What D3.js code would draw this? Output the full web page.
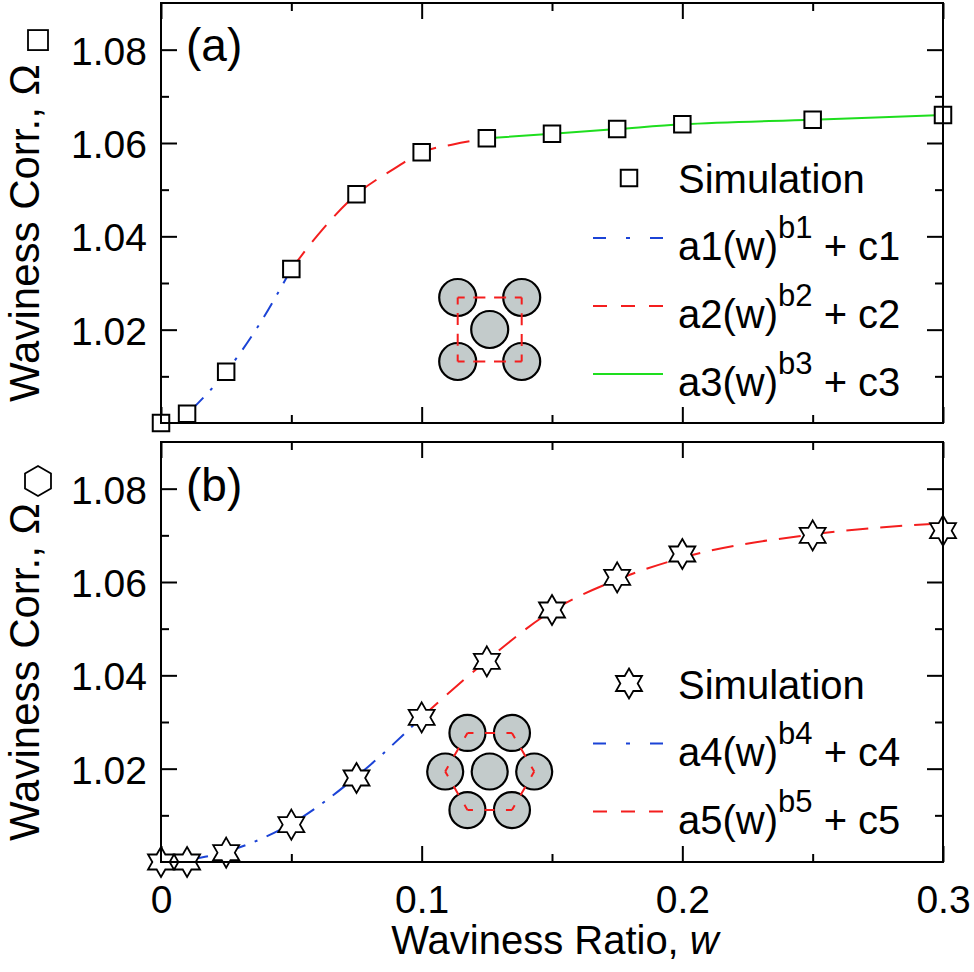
<!DOCTYPE html>
<html><head><meta charset="utf-8">
<script src="https://cdn.jsdelivr.net/npm/d3@7"></script>
<style>
body{margin:0;background:#fff}
svg text{font-family:"Liberation Sans",Arial,Helvetica,sans-serif;fill:#000;white-space:pre}
</style></head><body>
<svg id="c" width="974" height="972"></svg>
<script>
// ---------- data ----------
const wMajor = [0, 0.1, 0.2, 0.3];
const wMajorLabels = ["0", "0.1", "0.2", "0.3"];
const wMinor = [0.05, 0.15, 0.25];
const omegaMajor = [1.02, 1.04, 1.06, 1.08];
const omegaMajorLabels = ["1.02", "1.04", "1.06", "1.08"];
const omegaMinor = [1.01, 1.03, 1.05, 1.07];

const simW = [0, 0.01, 0.025, 0.05, 0.075, 0.1, 0.125, 0.15, 0.175, 0.2, 0.25, 0.3];
const simSquare = [1.000, 1.002, 1.011, 1.033, 1.049, 1.058, 1.061, 1.062, 1.063, 1.064, 1.065, 1.066];
const simHex = [1.000, 1.000, 1.002, 1.008, 1.018, 1.031, 1.043, 1.054, 1.061, 1.066, 1.070, 1.071];

// fitted curves
const fit1W = [0.012, 0.025, 0.037, 0.05];
const fit1 = [1.003, 1.011, 1.0205, 1.033];
const fit2W = [0.05, 0.062, 0.075, 0.0895, 0.1, 0.112, 0.125];
const fit2 = [1.033, 1.0415, 1.049, 1.0545, 1.058, 1.0597, 1.061];
const fit3W = [0.125, 0.15, 0.175, 0.2, 0.25, 0.3];
const fit3 = [1.061, 1.062, 1.063, 1.064, 1.065, 1.066];
const fit4W = [0.012, 0.025, 0.039, 0.05, 0.075, 0.1];
const fit4 = [1.0006, 1.0022, 1.0051, 1.0082, 1.0183, 1.031];
const fit5W = [0.1, 0.125, 0.15, 0.175, 0.2, 0.25, 0.3];
const fit5 = [1.031, 1.0432, 1.0538, 1.0605, 1.0652, 1.0702, 1.0726];

const legendTop = ["a1", "b1", "c1", "a2", "b2", "c2", "a3", "b3", "c3"];
const legendBottom = ["a4", "b4", "c4", "a5", "b5", "c5"];

// ---------- styles / layout ----------
const BLUE = "#1b43d6", RED = "#f41e1e", GREEN = "#1ede1e";
const DASH_BLUE = "16 10 3 10", DASH_RED = "22 12";
const L = 161, R = 943, PH = 420;
const panelTops = [3, 442];
const FONT = 40, TICKFONT = 39, YLABFONT = 42;

const svg = d3.select("#c");
const x = d3.scaleLinear().domain([0, 0.3]).range([L, R]);
const zip = (a, b) => a.map((v, i) => [v, b[i]]);

function hexagram(Rr) {
  const r = Rr / Math.sqrt(3), p = [];
  for (let i = 0; i < 12; i++) {
    const a = (-90 + i * 30) * Math.PI / 180, rr = i % 2 ? r : Rr;
    p.push([rr * Math.cos(a), rr * Math.sin(a)]);
  }
  return "M" + p.map(q => q.join(",")).join("L") + "Z";
}
const squarePath = d3.symbol(d3.symbolSquare, 16.5 * 16.5)();
const starPath = hexagram(15);

function drawAxes(g, y, showX) {
  const mk = (axis, tr, vals, size, fmt) => {
    const a = g.append("g").attr("transform", tr)
      .call(axis.tickValues(vals).tickSize(size).tickSizeOuter(0).tickFormat(fmt));
    a.select(".domain").remove();
    a.selectAll("line").attr("stroke", "#000").attr("stroke-width", 2);
    return a;
  };
  const top = y.range()[1], bot = y.range()[0];
  const xb = mk(d3.axisBottom(x).tickPadding(23), `translate(0,${bot})`, wMajor, -16,
    showX ? (d, i) => wMajorLabels[i] : () => "");
  xb.selectAll("text").attr("font-size", TICKFONT);
  mk(d3.axisBottom(x), `translate(0,${bot})`, wMinor, -8, () => "");
  mk(d3.axisTop(x), `translate(0,${top})`, wMajor, -16, () => "");
  mk(d3.axisTop(x), `translate(0,${top})`, wMinor, -8, () => "");
  const yl = mk(d3.axisLeft(y).tickPadding(14), `translate(${L},0)`, omegaMajor, -16, (d, i) => omegaMajorLabels[i]);
  yl.selectAll("text").attr("font-size", TICKFONT).attr("dy", "0.37em");
  mk(d3.axisLeft(y), `translate(${L},0)`, omegaMinor, -8, () => "");
  mk(d3.axisRight(y), `translate(${R},0)`, omegaMajor, -16, () => "");
  mk(d3.axisRight(y), `translate(${R},0)`, omegaMinor, -8, () => "");
  g.selectAll(".tick text").attr("fill", "#000");
}

function curve(g, y, pts, color, dash) {
  const line = d3.line().x(d => x(d[0])).y(d => y(d[1])).curve(d3.curveMonotoneX);
  g.append("path").attr("d", line(pts)).attr("fill", "none").attr("stroke", color)
    .attr("stroke-width", 2).attr("stroke-dasharray", dash || null);
}

function legendRow(g, yl, color, dash, names) {
  g.append("line").attr("x1", 593).attr("x2", 663).attr("y1", yl).attr("y2", yl)
    .attr("stroke", color).attr("stroke-width", 2).attr("stroke-dasharray", dash || null);
  const t = g.append("text").attr("x", 678).attr("y", yl + 22).attr("font-size", FONT);
  t.append("tspan").text(names[0] + "(w)");
  t.append("tspan").attr("font-size", 31).attr("dy", -22).text(names[1]);
  t.append("tspan").attr("dy", 22).text(" + " + names[2]);
}

function yLabel(g, top, shape) {
  const base = top + 399;
  const t = g.append("text").attr("transform", `translate(39,${base}) rotate(-90)`)
    .attr("font-size", YLABFONT).text("Waviness Corr., \u03A9");
  const len = t.node().getComputedTextLength();
  const end = base - len;
  if (shape === "square") {
    g.append("rect").attr("x", 28).attr("y", end - 14 - 20).attr("width", 20).attr("height", 20)
      .attr("fill", "none").attr("stroke", "#000").attr("stroke-width", 1.8);
  } else {
    const cy = end - 7 - 15, rr = 15, p = [];
    for (let i = 0; i < 6; i++) { const a = (-90 + 60 * i) * Math.PI / 180; p.push([38 + rr * Math.cos(a), cy + rr * Math.sin(a)]); }
    g.append("path").attr("d", "M" + p.map(q => q.join(",")).join("L") + "Z")
      .attr("fill", "none").attr("stroke", "#000").attr("stroke-width", 1.8);
  }
}

function dashedSegment(g, p, q, pattern) {
  g.append("line").attr("x1", p[0]).attr("y1", p[1]).attr("x2", q[0]).attr("y2", q[1])
    .attr("stroke", RED).attr("stroke-width", 2).attr("stroke-dasharray", pattern);
}

function insetSquare(g, cx, cy) {
  const h = 32, rad = 18.5;
  const corners = [[cx - h, cy - h], [cx + h, cy - h], [cx + h, cy + h], [cx - h, cy + h]];
  corners.concat([[cx, cy]]).forEach(c => g.append("circle").attr("cx", c[0]).attr("cy", c[1]).attr("r", rad)
    .attr("fill", "#c3cbcb").attr("stroke", "#000").attr("stroke-width", 2.2));
  for (let i = 0; i < 4; i++) dashedSegment(g, corners[i], corners[(i + 1) % 4], "7 8.7 12 8.7 12 8.7 7 0");
}

function insetHex(g, cx, cy) {
  const d = 44.5, rad = 18;
  const outer = [];
  for (let i = 0; i < 6; i++) { const a = (-120 + 60 * i) * Math.PI / 180; outer.push([cx + d * Math.cos(a), cy + d * Math.sin(a)]); }
  outer.concat([[cx, cy]]).forEach(c => g.append("circle").attr("cx", c[0]).attr("cy", c[1]).attr("r", rad)
    .attr("fill", "#c3cbcb").attr("stroke", "#000").attr("stroke-width", 2.2));
  for (let i = 0; i < 6; i++) dashedSegment(g, outer[i], outer[(i + 1) % 6], "6 11.5 10 11.5 6 0");
}

// ---------- panel (a) ----------
{
  const top = panelTops[0];
  const y = d3.scaleLinear().domain([1.0, 1.09]).range([top + PH, top]);
  const g = svg.append("g");
  drawAxes(g, y, false);
  curve(g, y, zip(fit1W, fit1), BLUE, DASH_BLUE);
  curve(g, y, zip(fit2W, fit2), RED, DASH_RED);
  curve(g, y, zip(fit3W, fit3), GREEN, null);
  insetSquare(g, 489.7, 329.5);
  g.selectAll(".sq").data(zip(simW, simSquare)).join("path").attr("class", "sq")
    .attr("transform", d => `translate(${x(d[0])},${y(d[1])})`).attr("d", squarePath)
    .attr("fill", "#fff").attr("stroke", "#000").attr("stroke-width", 2);
  // legend
  g.append("path").attr("transform", "translate(629,178)").attr("d", squarePath)
    .attr("fill", "#fff").attr("stroke", "#000").attr("stroke-width", 2);
  g.append("text").attr("x", 678).attr("y", 193).attr("font-size", FONT).text("Simulation");
  legendRow(g, 238, BLUE, "13 20 4 20 13 0", legendTop.slice(0, 3));
  legendRow(g, 306, RED, "14 14", legendTop.slice(3, 6));
  legendRow(g, 374, GREEN, null, legendTop.slice(6, 9));
  g.append("text").attr("x", 186).attr("y", top + 58).attr("font-size", 46).text("(a)");
  yLabel(g, top, "square");
  g.append("rect").attr("x", L).attr("y", top).attr("width", R - L).attr("height", PH)
    .attr("fill", "none").attr("stroke", "#000").attr("stroke-width", 2);
}

// ---------- panel (b) ----------
{
  const top = panelTops[1];
  const y = d3.scaleLinear().domain([1.0, 1.09]).range([top + PH, top]);
  const g = svg.append("g");
  drawAxes(g, y, true);
  curve(g, y, zip(fit4W, fit4), BLUE, DASH_BLUE);
  curve(g, y, zip(fit5W, fit5), RED, DASH_RED);
  insetHex(g, 489.7, 771.5);
  g.selectAll(".st").data(zip(simW, simHex)).join("path").attr("class", "st")
    .attr("transform", d => `translate(${x(d[0])},${y(d[1])})`).attr("d", starPath)
    .attr("fill", "#fff").attr("stroke", "#000").attr("stroke-width", 1.8);
  g.append("path").attr("transform", "translate(629,683.5)").attr("d", starPath)
    .attr("fill", "#fff").attr("stroke", "#000").attr("stroke-width", 1.8);
  g.append("text").attr("x", 678).attr("y", 698.5).attr("font-size", FONT).text("Simulation");
  legendRow(g, 743.5, BLUE, "13 20 4 20 13 0", legendBottom.slice(0, 3));
  legendRow(g, 811.5, RED, "14 14", legendBottom.slice(3, 6));
  g.append("text").attr("x", 186).attr("y", top + 59).attr("font-size", 46).text("(b)");
  yLabel(g, top, "hex");
  g.append("rect").attr("x", L).attr("y", top).attr("width", R - L).attr("height", PH)
    .attr("fill", "none").attr("stroke", "#000").attr("stroke-width", 2);
  // x-axis title
  const t = svg.append("text").attr("x", (L + R) / 2 + 3).attr("y", 954).attr("font-size", FONT)
    .attr("text-anchor", "middle");
  t.append("tspan").text("Waviness Ratio, ");
  t.append("tspan").attr("font-style", "italic").text("w");
}
</script>
</body></html>
